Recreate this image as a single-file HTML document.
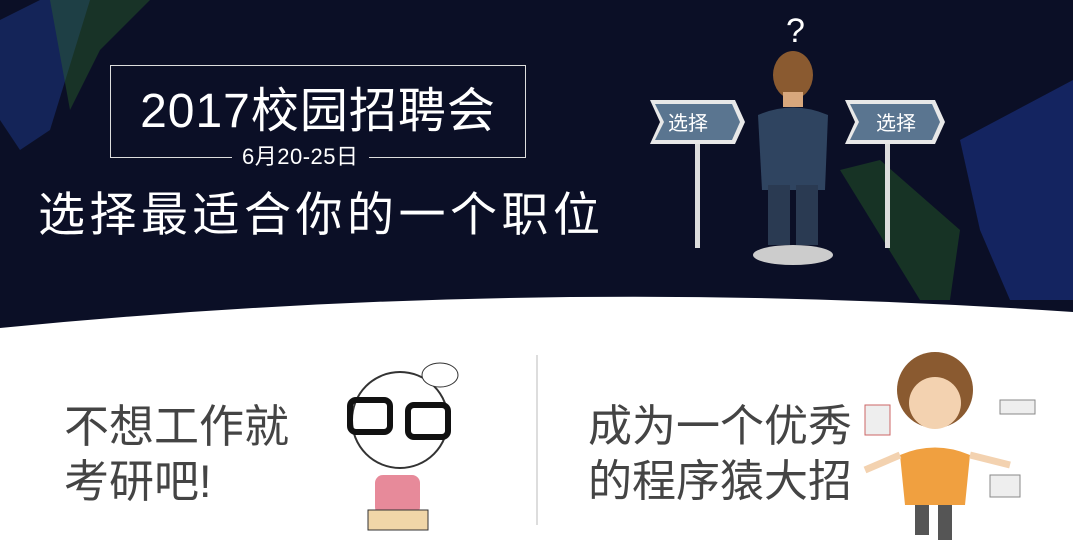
<!DOCTYPE html>
<html><head><meta charset="utf-8"><style>
body{margin:0;width:1073px;height:552px;overflow:hidden;background:#fff;font-family:"Liberation Sans","Noto Sans CJK SC",sans-serif;position:relative}
.a{position:absolute;white-space:nowrap}
</style></head><body>
<svg class="a" width="1073" height="552" style="left:0;top:0">
<path d="M0 0H1073V312Q537 275 0 328Z" fill="#0b0f26"/>
<polygon points="0,20 40,0 90,0 50,130 20,150 0,120" fill="#1d3a8a" opacity="0.5"/>
<polygon points="50,0 110,0 150,0 100,50 70,110" fill="#2d6a2a" opacity="0.4"/>
<polygon points="840,170 880,160 960,230 950,300 920,300" fill="#2a6a25" opacity="0.4"/>
<polygon points="960,140 1073,80 1073,300 1010,300 980,230" fill="#1d3a9a" opacity="0.5"/>
<line x1="537" y1="355" x2="537" y2="525" stroke="#ddd" stroke-width="2"/>
</svg>
<div class="a" style="left:110px;top:65px;width:416px;height:93px;border:1.5px solid #ddd;box-sizing:border-box"></div>
<div class="a" style="left:110px;top:83px;width:416px;text-align:center;color:#fff;font-size:48px;line-height:58px;letter-spacing:1px">2017校园招聘会</div>
<div class="a" style="left:232px;top:143px;padding:0 10px;background:#0b0f26;color:#fff;font-size:22px;line-height:28px;letter-spacing:0.5px">6月20-25日</div>
<div class="a" style="left:38px;top:186px;color:#fff;font-size:47px;line-height:58px;letter-spacing:4.5px">选择最适合你的一个职位</div>
<svg class="a" width="320" height="280" style="left:640px;top:0">
<text x="146" y="42" fill="#fff" font-size="34" font-family="Liberation Sans">?</text>
<ellipse cx="153" cy="255" rx="40" ry="10" fill="#ccc"/>
<rect x="55" y="130" width="5" height="118" fill="#ddd"/><rect x="245" y="130" width="5" height="118" fill="#ddd"/>
<polygon points="10,100 95,100 105,122 95,144 10,144 20,122" fill="#e8e8e8"/>
<polygon points="15,104 92,104 100,122 92,140 15,140 24,122" fill="#5a7590"/>
<text x="28" y="130" fill="#fff" font-size="20" font-family="Liberation Sans,Noto Sans CJK SC,sans-serif">选择</text>
<polygon points="205,100 295,100 305,122 295,144 205,144 215,122" fill="#e8e8e8"/>
<polygon points="210,104 292,104 300,122 292,140 210,140 219,122" fill="#5a7590"/>
<text x="236" y="130" fill="#fff" font-size="20" font-family="Liberation Sans,Noto Sans CJK SC,sans-serif">选择</text>
<ellipse cx="153" cy="75" rx="20" ry="24" fill="#8a5a30"/>
<rect x="143" y="92" width="20" height="15" fill="#d8a77c"/>
<path d="M118 115Q153 100 188 115L185 190H122Z" fill="#2f4460"/>
<rect x="128" y="185" width="22" height="60" fill="#2a3a52"/><rect x="156" y="185" width="22" height="60" fill="#2a3a52"/>
</svg>
<div class="a" style="left:64px;top:400px;color:#444;font-size:45px;line-height:54px">不想工作就</div>
<div class="a" style="left:64px;top:455px;color:#444;font-size:45px;line-height:54px">考研吧!</div>
<div class="a" style="left:588px;top:400px;color:#444;font-size:44px;line-height:54px">成为一个优秀</div>
<div class="a" style="left:588px;top:455px;color:#444;font-size:44px;line-height:54px">的程序猿大招</div>
<svg class="a" width="150" height="200" style="left:330px;top:345px">
<circle cx="70" cy="75" r="48" fill="#fff" stroke="#333" stroke-width="2"/>
<rect x="20" y="55" width="40" height="32" rx="6" fill="none" stroke="#111" stroke-width="6"/>
<rect x="78" y="60" width="40" height="32" rx="6" fill="none" stroke="#111" stroke-width="6"/>
<ellipse cx="110" cy="30" rx="18" ry="12" fill="#fff" stroke="#333"/>
<rect x="45" y="130" width="45" height="40" rx="8" fill="#e78a9a"/>
<rect x="38" y="165" width="60" height="20" fill="#f0d6a8" stroke="#333"/>
</svg>
<svg class="a" width="180" height="200" style="left:860px;top:345px">
<circle cx="75" cy="45" r="38" fill="#8a5a30"/>
<circle cx="75" cy="58" r="26" fill="#f3d2b0"/>
<path d="M40 110Q75 95 110 110L105 160H45Z" fill="#f0a040"/>
<line x1="40" y1="110" x2="5" y2="125" stroke="#f3d2b0" stroke-width="7"/>
<line x1="110" y1="110" x2="150" y2="120" stroke="#f3d2b0" stroke-width="7"/>
<rect x="55" y="160" width="14" height="30" fill="#555"/><rect x="78" y="160" width="14" height="35" fill="#555"/>
<rect x="130" y="130" width="30" height="22" fill="#eee" stroke="#888"/>
<rect x="140" y="55" width="35" height="14" fill="#eee" stroke="#888"/>
<rect x="5" y="60" width="25" height="30" fill="#eee" stroke="#c66"/>
</svg>
</body></html>
